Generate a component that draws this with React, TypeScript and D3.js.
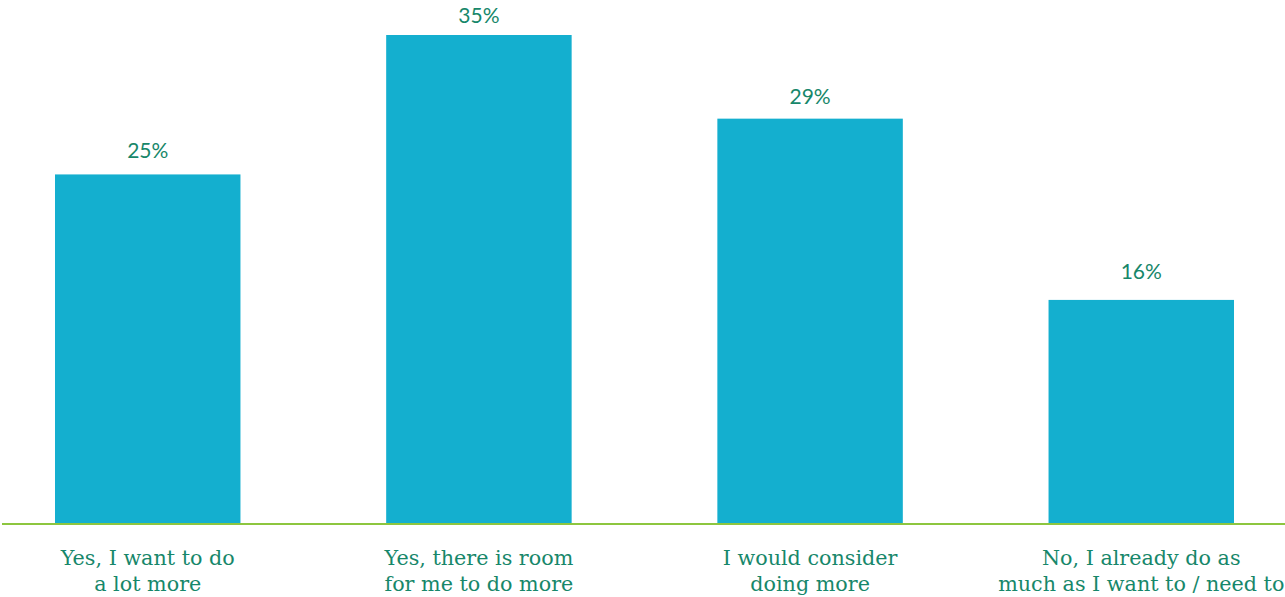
import React from "react";
import * as d3 from "d3";

const categories: string[][] = [
  ["Yes, I want to do", "a lot more"],
  ["Yes, there is room", "for me to do more"],
  ["I would consider", "doing more"],
  ["No, I already do as", "much as I want to / need to"],
];
const values: number[] = [25, 35, 29, 16];
const valueLabels: string[] = ["25%", "35%", "29%", "16%"];

const W = 1285;
const H = 597;
const baseline = 523;

export default function App() {
  const x = d3
    .scaleBand<number>()
    .domain(values.map((_, i) => i))
    .range([55, 1234])
    .paddingInner(0.44)
    .paddingOuter(0);
  const y = d3.scaleLinear().domain([0, 35]).range([baseline, 35]);
  // baseline positions for the value labels above each bar
  const yLabel = d3.scaleLinear().domain([0, 35]).range([494, 23]);

  const textColor = "#17876a";

  return (
    <svg
      width={W}
      height={H}
      style={{ position: "absolute", left: 0, top: 0, background: "#fff" }}
    >
      {values.map((v, i) => {
        const bx = x(i)!;
        const cx = bx + x.bandwidth() / 2;
        return (
          <g key={i}>
            <rect
              x={bx}
              y={y(v)}
              width={x.bandwidth()}
              height={baseline - y(v)}
              fill="#14afcf"
            />
            <text
              x={cx}
              y={yLabel(v)}
              textAnchor="middle"
              fontFamily="Lato, 'Open Sans', sans-serif"
              fontSize={21}
              fill={textColor}
            >
              {valueLabels[i]}
            </text>
            {categories[i].map((line, j) => (
              <text
                key={j}
                x={cx}
                y={565 + j * 25.5}
                textAnchor="middle"
                fontFamily="'DejaVu Serif', serif"
                fontSize={20.7}
                fill={textColor}
              >
                {line}
              </text>
            ))}
          </g>
        );
      })}
      <line x1={2} x2={W} y1={baseline + 1} y2={baseline + 1} stroke="#8dc63f" strokeWidth={2} />
    </svg>
  );
}
